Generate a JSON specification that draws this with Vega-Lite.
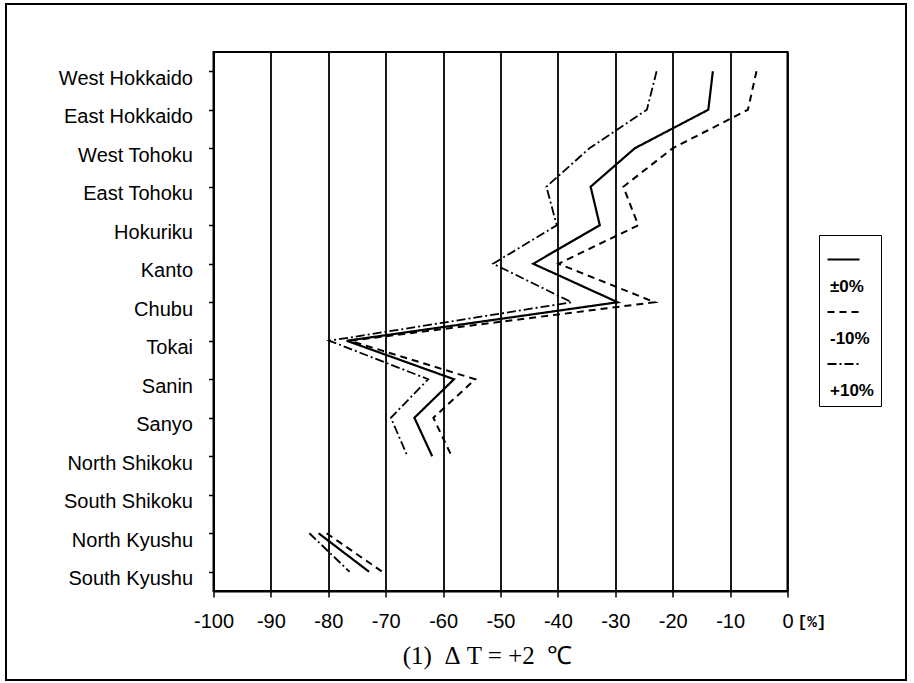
{
  "$schema": "https://vega.github.io/schema/vega-lite/v6.json",
  "autosize": {"type": "none"},
  "padding": {"left": 213.5, "top": 52, "right": 126.5, "bottom": 92},
  "width": 574,
  "height": 539,
  "background": "white",
  "title": {
    "text": "(1)\u00a0\u00a0Δ\u00a0T = +2\u00a0\u00a0℃",
    "orient": "bottom",
    "anchor": "middle",
    "frame": "group",
    "baseline": "top",
    "font": "Liberation Serif",
    "fontSize": 25,
    "fontWeight": "normal",
    "color": "black",
    "offset": -37,
    "dx": -13
  },
  "config": {
    "view": {"stroke": "black", "strokeWidth": 2},
    "axis": {
      "labelFont": "Liberation Sans",
      "labelFontSize": 19,
      "labelColor": "black",
      "domainColor": "black",
      "domainWidth": 2,
      "tickColor": "black",
      "tickWidth": 1.5
    }
  },
  "layer": [
    {
      "data": {
        "values": [
          {"region": "West Hokkaido", "series": "±0%", "value": -13.0},
          {"region": "East Hokkaido", "series": "±0%", "value": -13.8},
          {"region": "West Tohoku", "series": "±0%", "value": -26.6},
          {"region": "East Tohoku", "series": "±0%", "value": -34.3},
          {"region": "Hokuriku", "series": "±0%", "value": -32.7},
          {"region": "Kanto", "series": "±0%", "value": -44.3},
          {"region": "Chubu", "series": "±0%", "value": -29.6},
          {"region": "Tokai", "series": "±0%", "value": -76.8},
          {"region": "Sanin", "series": "±0%", "value": -58.1},
          {"region": "Sanyo", "series": "±0%", "value": -65.0},
          {"region": "North Shikoku", "series": "±0%", "value": -61.9},
          {"region": "South Shikoku", "series": "±0%", "value": null},
          {"region": "North Kyushu", "series": "±0%", "value": -81.7},
          {"region": "South Kyushu", "series": "±0%", "value": -72.9},
          {"region": "West Hokkaido", "series": "-10%", "value": -5.4},
          {"region": "East Hokkaido", "series": "-10%", "value": -6.9},
          {"region": "West Tohoku", "series": "-10%", "value": -20.0},
          {"region": "East Tohoku", "series": "-10%", "value": -28.6},
          {"region": "Hokuriku", "series": "-10%", "value": -26.0},
          {"region": "Kanto", "series": "-10%", "value": -39.9},
          {"region": "Chubu", "series": "-10%", "value": -23.1},
          {"region": "Tokai", "series": "-10%", "value": -76.2},
          {"region": "Sanin", "series": "-10%", "value": -54.4},
          {"region": "Sanyo", "series": "-10%", "value": -61.7},
          {"region": "North Shikoku", "series": "-10%", "value": -58.5},
          {"region": "South Shikoku", "series": "-10%", "value": null},
          {"region": "North Kyushu", "series": "-10%", "value": -80.3},
          {"region": "South Kyushu", "series": "-10%", "value": -70.6},
          {"region": "West Hokkaido", "series": "+10%", "value": -22.8},
          {"region": "East Hokkaido", "series": "+10%", "value": -24.5},
          {"region": "West Tohoku", "series": "+10%", "value": -34.5},
          {"region": "East Tohoku", "series": "+10%", "value": -42.0},
          {"region": "Hokuriku", "series": "+10%", "value": -40.2},
          {"region": "Kanto", "series": "+10%", "value": -51.3},
          {"region": "Chubu", "series": "+10%", "value": -37.6},
          {"region": "Tokai", "series": "+10%", "value": -79.8},
          {"region": "Sanin", "series": "+10%", "value": -62.6},
          {"region": "Sanyo", "series": "+10%", "value": -69.1},
          {"region": "North Shikoku", "series": "+10%", "value": -66.2},
          {"region": "South Shikoku", "series": "+10%", "value": null},
          {"region": "North Kyushu", "series": "+10%", "value": -83.3},
          {"region": "South Kyushu", "series": "+10%", "value": -76.3}
        ]
      },
      "mark": {"type": "line", "color": "black", "invalid": "break-paths-show-domains"},
      "encoding": {
        "x": {
          "field": "value",
          "type": "quantitative",
          "scale": {"domain": [-100, 0], "nice": false, "zero": false},
          "axis": {
            "values": [-100, -90, -80, -70, -60, -50, -40, -30, -20, -10, 0],
            "labelExpr": "toString(datum.value)",
            "grid": true,
            "gridColor": "black",
            "gridWidth": 1.8,
            "gridOpacity": 1,
            "tickSize": 6,
            "labelPadding": 14,
            "labelFontSize": 20,
            "labelFlush": false,
            "labelOverlap": false,
            "title": "[%]",
            "titleFont": "Liberation Mono",
            "titleFontSize": 16,
            "titleFontWeight": "bold",
            "titleColor": "black",
            "titleAlign": "center",
            "titleBaseline": "middle",
            "titleX": 598,
            "titleY": 30
          }
        },
        "y": {
          "field": "region",
          "type": "ordinal",
          "sort": ["West Hokkaido", "East Hokkaido", "West Tohoku", "East Tohoku", "Hokuriku", "Kanto", "Chubu", "Tokai", "Sanin", "Sanyo", "North Shikoku", "South Shikoku", "North Kyushu", "South Kyushu"],
          "scale": {"type": "point", "padding": 0.5},
          "axis": {
            "title": null,
            "grid": false,
            "tickSize": 5,
            "labelPadding": 16,
            "labelOffset": 7,
            "labelFontSize": 20,
            "labelBaseline": "middle"
          }
        },
        "order": {"value": null},
        "strokeDash": {
          "field": "series",
          "type": "nominal",
          "scale": {"domain": ["±0%", "-10%", "+10%"], "range": [[1, 0], [7, 5], [9, 3, 2, 3]]},
          "legend": {
            "title": null,
            "orient": "none",
            "legendX": 605.5,
            "legendY": 183,
            "strokeColor": "black",
            "padding": 7,
            "symbolType": "stroke",
            "symbolSize": 1024,
            "symbolStrokeColor": "black",
            "labelExpr": "['', datum.label]",
            "labelBaseline": "top",
            "labelOffset": -31,
            "labelFont": "Liberation Sans",
            "labelFontSize": 17,
            "labelFontWeight": "bold",
            "labelColor": "black",
            "rowPadding": -1
          }
        },
        "strokeWidth": {
          "field": "series",
          "type": "nominal",
          "scale": {"domain": ["±0%", "-10%", "+10%"], "range": [2.2, 1.8, 1.2]},
          "legend": {
            "title": null,
            "orient": "none",
            "legendX": 605.5,
            "legendY": 183,
            "strokeColor": "black",
            "padding": 7,
            "symbolType": "stroke",
            "symbolSize": 1024,
            "symbolStrokeColor": "black",
            "labelExpr": "['', datum.label]",
            "labelBaseline": "top",
            "labelOffset": -31,
            "labelFont": "Liberation Sans",
            "labelFontSize": 17,
            "labelFontWeight": "bold",
            "labelColor": "black",
            "rowPadding": -1
          }
        }
      }
    },
    {
      "data": {"values": [{"frame": "outer"}]},
      "mark": {"type": "rect", "fill": null, "stroke": "black", "strokeWidth": 2, "clip": false},
      "encoding": {
        "x": {"value": -207.5},
        "x2": {"value": 692.5},
        "y": {"value": -48},
        "y2": {"value": 628}
      }
    }
  ]
}
